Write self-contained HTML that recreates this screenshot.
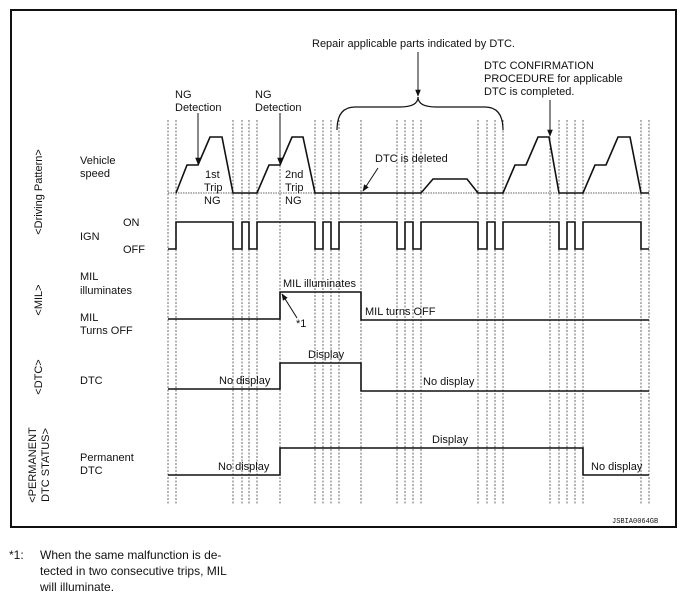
<!DOCTYPE html>
<html><head><meta charset="utf-8"><style>
html,body{margin:0;padding:0;background:#fff;}
svg{display:block;font-family:"Liberation Sans",Arial,sans-serif;}
text{font-size:11px;fill:#111;}
</style></head><body>
<svg width="685" height="600" viewBox="0 0 685 600" xmlns="http://www.w3.org/2000/svg">
<defs>
<marker id="ah" viewBox="0 0 10 10" refX="9" refY="5" markerWidth="7" markerHeight="7" orient="auto-start-reverse"><path d="M0,1 L10,5 L0,9 z" fill="#111"/></marker>
</defs>
<rect x="11" y="10" width="665" height="517" fill="none" stroke="#111" stroke-width="2"/>
<g stroke="#444" stroke-width="0.8" stroke-dasharray="2,1.5">
<line x1="168" y1="120" x2="168" y2="504"/><line x1="176" y1="120" x2="176" y2="504"/>
<line x1="233" y1="120" x2="233" y2="504"/><line x1="242" y1="120" x2="242" y2="504"/>
<line x1="249" y1="120" x2="249" y2="504"/><line x1="257" y1="120" x2="257" y2="504"/>
<line x1="280" y1="120" x2="280" y2="504"/>
<line x1="315" y1="120" x2="315" y2="504"/><line x1="323" y1="120" x2="323" y2="504"/>
<line x1="331" y1="120" x2="331" y2="504"/><line x1="339" y1="120" x2="339" y2="504"/>
<line x1="361" y1="120" x2="361" y2="504"/>
<line x1="397" y1="120" x2="397" y2="504"/><line x1="405" y1="120" x2="405" y2="504"/>
<line x1="413" y1="120" x2="413" y2="504"/><line x1="421" y1="120" x2="421" y2="504"/>
<line x1="478" y1="120" x2="478" y2="504"/><line x1="487" y1="120" x2="487" y2="504"/>
<line x1="495" y1="120" x2="495" y2="504"/><line x1="503" y1="120" x2="503" y2="504"/>
<line x1="550" y1="120" x2="550" y2="504"/>
<line x1="559" y1="120" x2="559" y2="504"/><line x1="567" y1="120" x2="567" y2="504"/>
<line x1="575" y1="120" x2="575" y2="504"/><line x1="583" y1="120" x2="583" y2="504"/>
<line x1="641" y1="120" x2="641" y2="504"/><line x1="649" y1="120" x2="649" y2="504"/>
</g>
<line x1="168" y1="193" x2="649" y2="193" stroke="#666" stroke-width="1" stroke-dasharray="1.5,1"/>
<g fill="none" stroke="#111" stroke-width="1.6" stroke-linejoin="miter">
<polyline points="176,193 187,165 198,165 210,137 222,137 233,193 257,193 269,165 280,165 292,137 303,137 315,193 421,193 433,179 467,179 478,193 503,193 515,165 526,165 538,137 549,137 559,193 583,193 595,165 606,165 618,137 630,137 641,193 649,193"/>
<polyline points="168,249 176,249 176,222 233,222 233,249 242,249 242,222 249,222 249,249 257,249 257,222 315,222 315,249 323,249 323,222 331,222 331,249 339,249 339,222 397,222 397,249 405,249 405,222 413,222 413,249 421,249 421,222 478,222 478,249 487,249 487,222 495,222 495,249 503,249 503,222 559,222 559,249 567,249 567,222 575,222 575,249 583,249 583,222 641,222 641,249 649,249"/>
<polyline points="168,319 280,319 280,292 361,292 361,320 649,320"/>
<polyline points="168,389 280,389 280,363 361,363 361,391 649,391"/>
<polyline points="168,475 280,475 280,448 583,448 583,475 649,475"/>
<path d="M337,130 Q337,107 355,107 L400,107 Q418,107 418,97 Q418,107 436,107 L485,107 Q503,107 503,130" stroke-width="1.2"/>
</g>
<g stroke="#111" stroke-width="1" fill="none">
<line x1="198" y1="113" x2="198" y2="164" marker-end="url(#ah)"/>
<line x1="280" y1="113" x2="280" y2="164" marker-end="url(#ah)"/>
<line x1="418" y1="52" x2="418" y2="96" marker-end="url(#ah)"/>
<line x1="550" y1="100" x2="550" y2="136" marker-end="url(#ah)"/>
<line x1="378" y1="168" x2="363" y2="191" marker-end="url(#ah)"/>
<line x1="297" y1="318" x2="282" y2="294" marker-end="url(#ah)"/>
</g>
<text x="175" y="98">NG</text><text x="175" y="111">Detection</text>
<text x="255" y="98">NG</text><text x="255" y="111">Detection</text>
<text x="312" y="47">Repair applicable parts indicated by DTC.</text>
<text x="484" y="69">DTC CONFIRMATION</text>
<text x="484" y="82">PROCEDURE for applicable</text>
<text x="484" y="95">DTC is completed.</text>
<text x="375" y="162">DTC is deleted</text>
<text x="205" y="178">1st</text><text x="204" y="191">Trip</text><text x="204" y="204">NG</text>
<text x="285" y="178">2nd</text><text x="285" y="191">Trip</text><text x="285" y="204">NG</text>
<text x="283" y="287">MIL illuminates</text>
<text x="296" y="327">*1</text>
<text x="365" y="315">MIL turns OFF</text>
<text x="308" y="358">Display</text>
<text x="219" y="384">No display</text>
<text x="423" y="385">No display</text>
<text x="432" y="443">Display</text>
<text x="218" y="470">No display</text>
<text x="591" y="470">No display</text>
<text x="80" y="164">Vehicle</text><text x="80" y="177">speed</text>
<text x="123" y="226">ON</text><text x="80" y="240">IGN</text><text x="123" y="253">OFF</text>
<text x="80" y="280">MIL</text><text x="80" y="294">illuminates</text>
<text x="80" y="321">MIL</text><text x="80" y="334">Turns OFF</text>
<text x="80" y="384">DTC</text>
<text x="80" y="461">Permanent</text><text x="80" y="474">DTC</text>
<text transform="translate(42,192) rotate(-90)" text-anchor="middle">&lt;Driving Pattern&gt;</text>
<text transform="translate(42,300) rotate(-90)" text-anchor="middle">&lt;MIL&gt;</text>
<text transform="translate(42,377) rotate(-90)" text-anchor="middle">&lt;DTC&gt;</text>
<text transform="translate(36,465) rotate(-90)" text-anchor="middle">&lt;PERMANENT</text>
<text transform="translate(49,465) rotate(-90)" text-anchor="middle">DTC STATUS&gt;</text>
<text x="612" y="523" style="font-size:7px;font-family:'Liberation Mono',monospace">JSBIA0064GB</text>
<text x="9" y="559" style="font-size:12px">*1:</text>
<text x="40" y="559" style="font-size:12px">When the same malfunction is de-</text>
<text x="40" y="575" style="font-size:12px">tected in two consecutive trips, MIL</text>
<text x="40" y="591" style="font-size:12px">will illuminate.</text>
</svg>
</body></html>
